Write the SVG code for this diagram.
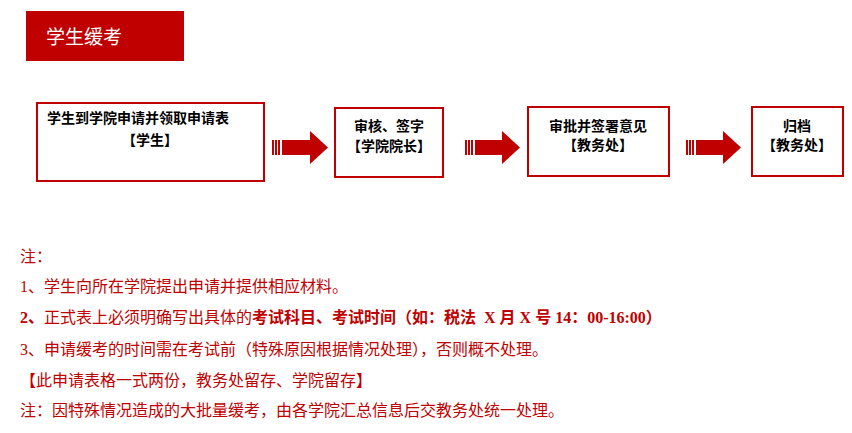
<svg xmlns="http://www.w3.org/2000/svg" width="852" height="433" viewBox="0 0 852 433">
<style>
.box{fill:#fff;stroke:#c00000;stroke-width:2}
.bt{font-family:"Liberation Sans","Noto Sans CJK SC",sans-serif;font-size:14px;font-weight:bold;fill:#000;text-anchor:middle}
.n{font-family:"Liberation Serif","Noto Sans CJK SC",sans-serif;font-size:16px;fill:#c00000}
.b{font-weight:bold}
.ar{fill:#c00000}
</style>
<rect width="852" height="433" fill="#fff"/>
<g id="title"><rect x="26" y="11" width="158" height="50" fill="#c00000"/>
<text x="46" y="44" font-family="Noto Sans CJK SC,sans-serif" font-size="19" fill="#fff">学生缓考</text></g>
<g id="n1"><rect class="box" x="37" y="103" width="227" height="78"/>
<text class="bt" x="47" y="123" text-anchor="start" style="text-anchor:start">学生到学院申请并领取申请表</text><text class="bt" x="150" y="145">【学生】</text></g>
<g id="n2"><rect class="box" x="335" y="108" width="108" height="69"/>
<text class="bt" x="389" y="131">审核、签字</text><text class="bt" x="389" y="151">【学院院长】</text></g>
<g id="n3"><rect class="box" x="528" y="107" width="141" height="69"/>
<text class="bt" x="598" y="131">审批并签署意见</text><text class="bt" x="598" y="150">【教务处】</text></g>
<g id="n4"><rect class="box" x="752" y="107" width="91" height="69"/>
<text class="bt" x="797" y="131">归档</text><text class="bt" x="797" y="150">【教务处】</text></g>
<g id="connectors">
<g class="ar"><rect x="272" y="140" width="2" height="15"/><rect x="275" y="140" width="2" height="15"/><rect x="278" y="140" width="2" height="15"/><polygon points="282,140 310,140 310,131 328,147.5 310,164 310,155 282,155"/></g>
<g class="ar"><rect x="465" y="140" width="2" height="15"/><rect x="468" y="140" width="2" height="15"/><rect x="471" y="140" width="2" height="15"/><polygon points="475,140 502,140 502,131 520,147.5 502,164 502,155 475,155"/></g>
<g class="ar"><rect x="686" y="140" width="2" height="15"/><rect x="689" y="140" width="2" height="15"/><rect x="692" y="140" width="2" height="15"/><polygon points="696,140 723,140 723,131 741,147.5 723,164 723,155 696,155"/></g>
</g>
<g id="notes">
<text class="n" x="20" y="262">注：</text>
<text class="n" x="20" y="292">1、学生向所在学院提出申请并提供相应材料。</text>
<text class="n" x="20" y="323" xml:space="preserve"><tspan class="b">2、</tspan>正式表上必须明确写出具体的<tspan class="b">考试科目、考试时间（如：税法  X 月 X 号 14：00-16:00）</tspan></text>
<text class="n" x="20" y="355">3、申请缓考的时间需在考试前（特殊原因根据情况处理），否则概不处理。</text>
<text class="n" x="20" y="386">【此申请表格一式两份，教务处留存、学院留存】</text>
<text class="n" x="20" y="416">注：因特殊情况造成的大批量缓考，由各学院汇总信息后交教务处统一处理。</text>
</g>
</svg>
